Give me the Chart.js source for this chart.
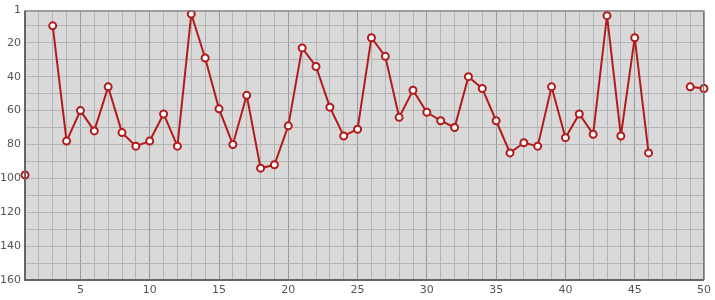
<!DOCTYPE html>
<html>
<head>
<meta charset="utf-8">
<script src="https://cdn.jsdelivr.net/npm/chart.js@4/dist/chart.umd.min.js"></script>
<style>
html, body { margin: 0; padding: 0; background: #fff; }
#wrap { width: 715px; height: 300px; }
</style>
</head>
<body>
<div id="wrap"><canvas id="rank"></canvas></div>
<script>
const days = [1,2,3,4,5,6,7,8,9,10,11,12,13,14,15,16,17,18,19,20,21,22,23,24,25,
              26,27,28,29,30,31,32,33,34,35,36,37,38,39,40,41,42,43,44,45,46,47,48,49,50];
const positions = [98,null,10,78,60,72,46,73,81,78,62,81,3,29,59,80,51,94,92,69,23,34,58,75,71,
                   17,28,64,48,61,66,70,40,47,66,85,79,81,46,76,62,74,4,75,17,85,null,null,46,47];
const yTicks = [1,10,20,30,40,50,60,70,80,90,100,110,120,130,140,150,160];
const yLabels = [1,20,40,60,80,100,120,140,160];

const ctx = document.getElementById('rank');

// plot area background and frame
const frame = {
    id: 'frame',
    beforeDraw(chart) {
        const a = chart.chartArea;
        const c = chart.ctx;
        c.save();
        c.fillStyle = '#d9d9d9';
        c.fillRect(a.left, a.top, a.right - a.left, a.bottom - a.top);
        c.restore();
    },
    afterDatasetsDraw(chart) {
        const a = chart.chartArea;
        const c = chart.ctx;
        c.save();
        c.strokeStyle = '#7a7a7a';
        c.lineWidth = 1;
        c.beginPath();
        c.moveTo(a.left, a.top + 0.5);
        c.lineTo(a.right - 0.5, a.top + 0.5);
        c.lineTo(a.right - 0.5, a.bottom);
        c.stroke();
        c.strokeStyle = '#666';
        c.lineWidth = 2;
        c.beginPath();
        c.moveTo(a.left, a.top);
        c.lineTo(a.left, a.bottom);
        c.lineTo(a.right, a.bottom);
        c.stroke();
        c.restore();
    }
};

new Chart(ctx, {
    type: 'line',
    data: {
        labels: days,
        datasets: [{
            data: positions,
            borderColor: '#b31b1b',
            borderWidth: 2,
            pointBackgroundColor: '#fff',
            pointBorderColor: '#b31b1b',
            pointBorderWidth: 2,
            pointRadius: 3.5,
            tension: 0,
            spanGaps: false
        }]
    },
    options: {
        responsive: true,
        maintainAspectRatio: false,
        animation: false,
        layout: { padding: { top: 10, right: 8, left: 0, bottom: 0 } },
        plugins: { legend: { display: false }, tooltip: { enabled: false } },
        scales: {
            x: {
                type: 'category',
                offset: false,
                border: { display: false },
                grid: {
                    drawTicks: false,
                    color: c => (days[c.index] % 5 === 0) ? '#9a9a9a' : '#b4b4b4',
                    lineWidth: 1
                },
                ticks: {
                    autoSkip: false,
                    maxRotation: 0,
                    padding: 4,
                    color: '#555',
                    font: { family: 'DejaVu Sans', size: 11 },
                    callback: (v, i) => (days[i] % 5 === 0) ? days[i] : ''
                },
                afterFit: s => { s.height = 20; }
            },
            y: {
                reverse: true,
                min: 1,
                max: 160,
                border: { display: false },
                grid: { drawTicks: false, color: '#b4b4b4', lineWidth: 1 },
                afterBuildTicks: s => { s.ticks = yTicks.map(v => ({ value: v })); },
                ticks: {
                    padding: 4,
                    color: '#555',
                    font: { family: 'DejaVu Sans', size: 11 },
                    callback: v => yLabels.includes(v) ? v : ''
                },
                afterFit: s => { s.width = 25; }
            }
        }
    },
    plugins: [frame]
});
</script>
</body>
</html>
